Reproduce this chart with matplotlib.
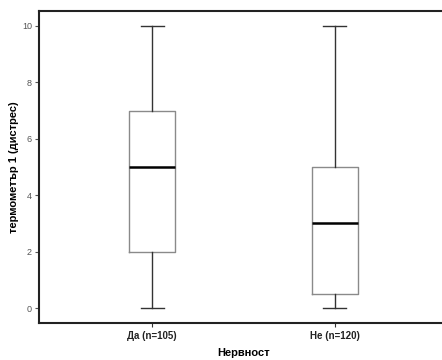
import matplotlib
matplotlib.use("Agg")
import matplotlib.pyplot as plt

plt.rcParams['font.family'] = ['Liberation Sans', 'DejaVu Sans']

categories = ["Да (n=105)", "Не (n=120)"]
whisker_low = [0, 0]
q1 = [2, 0.5]
medians = [5, 3]
q3 = [7, 5]
whisker_high = [10, 10]
y_ticks = [0, 2, 4, 6, 8, 10]

stats = []
for i, lab in enumerate(categories):
    stats.append({
        "label": lab,
        "whislo": whisker_low[i],
        "q1": q1[i],
        "med": medians[i],
        "q3": q3[i],
        "whishi": whisker_high[i],
        "fliers": [],
    })

fig = plt.figure(figsize=(4.42, 3.60), dpi=100)
ax = fig.add_axes([39 / 442, 1 - 323 / 360, (448 - 39) / 442, (323 - 11) / 360])

ax.bxp(
    stats,
    positions=[1, 2],
    widths=0.25,
    showfliers=False,
    boxprops=dict(color="#8a8a8a", linewidth=1.0),
    whiskerprops=dict(color="#333333", linewidth=1.0),
    capprops=dict(color="#333333", linewidth=1.0),
    medianprops=dict(color="black", linewidth=1.8),
    capwidths=0.125,
)

ax.set_xlim(0.38, 2.62)
ax.set_ylim(-0.53, 10.53)
ax.set_yticks(y_ticks)
ax.set_yticklabels([str(v) for v in y_ticks], fontsize=6.5, color="#555555")
ax.set_xticks([1, 2])
ax.set_xticklabels(categories, fontsize=7, fontweight="bold", color="#222222")

ax.tick_params(axis="y", length=3, width=0.8, color="#555555", pad=2)
ax.tick_params(axis="x", length=3, width=0.8, color="#333333", pad=3)

for side in ("left", "bottom", "top", "right"):
    ax.spines[side].set_linewidth(1.5)
    ax.spines[side].set_color("#222222")

ax.set_xlabel("Нервност", fontsize=8, fontweight="bold", labelpad=5)
ax.set_ylabel("термометър 1 (дистрес)", fontsize=8, fontweight="bold", labelpad=2)

fig.savefig("out.png", dpi=100)
